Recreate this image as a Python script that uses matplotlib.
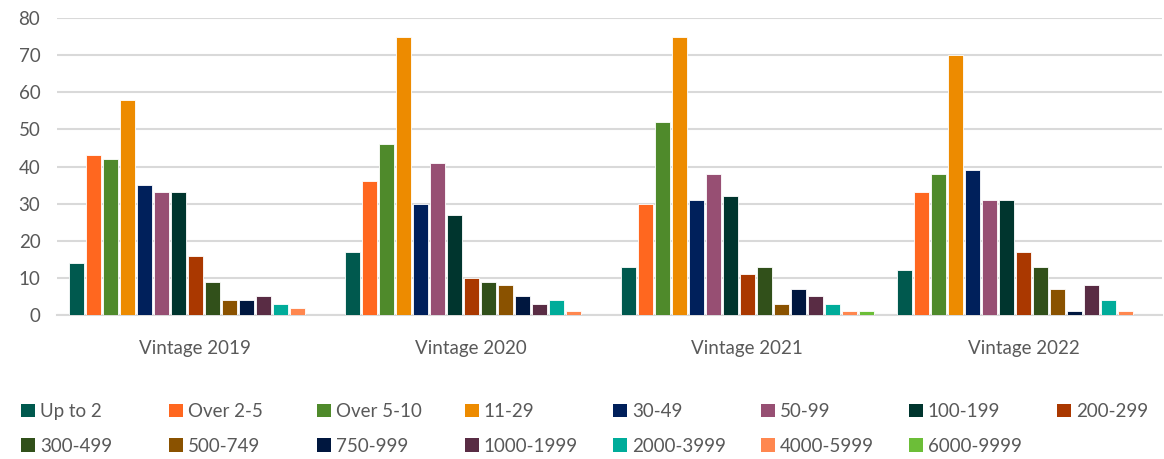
import numpy as np
import matplotlib
matplotlib.use('Agg')
import matplotlib.pyplot as plt
from matplotlib.patches import Patch

plt.rcParams['font.family'] = ['Lato', 'DejaVu Sans']

# Datos
vintages = ['Vintage 2019', 'Vintage 2020', 'Vintage 2021', 'Vintage 2022']
sizes = ['Up to 2', 'Over 2-5', 'Over 5-10', '11-29', '30-49', '50-99', '100-199',
         '200-299', '300-499', '500-749', '750-999', '1000-1999', '2000-3999',
         '4000-5999', '6000-9999']
v2019 = [14, 43, 42, 58, 35, 33, 33, 16, 9, 4, 4, 5, 3, 2, 0]
v2020 = [17, 36, 46, 75, 30, 41, 27, 10, 9, 8, 5, 3, 4, 1, 0]
v2021 = [13, 30, 52, 75, 31, 38, 32, 11, 13, 3, 7, 5, 3, 1, 1]
v2022 = [12, 33, 38, 70, 39, 31, 31, 17, 13, 7, 1, 8, 4, 1, 0]
colores = ['#00594E', '#FF671F', '#4F8A2B', '#ED8B00', '#00205B', '#974F73',
           '#00352E', '#AA3800', '#31501A', '#8A5200', '#00173F', '#592C44',
           '#00AC9A', '#FF874F', '#6CBE38']

valores = np.array([v2019, v2020, v2021, v2022])
gris = '#595959'

fig = plt.figure(figsize=(11.64, 4.59), dpi=100)
ax = fig.add_axes([0.049, 0.3137, 0.949, 0.6471])

n = len(sizes)
paso = 17 / 276.0
x = np.arange(len(vintages))
for i in range(n):
  ax.bar(x + (i - (n - 1) / 2) * paso, valores[:, i], width=paso * 0.88,
         color=colores[i], edgecolor='white', linewidth=0.6, zorder=3)

ax.set_xlim(-0.5, len(vintages) - 0.5)
ax.set_ylim(0, 80)
ax.set_yticks(range(0, 81, 10))
ax.set_xticks(x)
ax.set_xticklabels(vintages)
ax.tick_params(axis='both', length=0, labelsize=13.5, labelcolor=gris)
ax.tick_params(axis='x', pad=18)
ax.tick_params(axis='y', pad=12)
ax.grid(axis='y', color='#D9D9D9', linewidth=1.5, zorder=0)
for s in ['top', 'right', 'left']:
  ax.spines[s].set_visible(False)
ax.spines['bottom'].set_color('#D9D9D9')
ax.spines['bottom'].set_linewidth(1.5)

# Leyenda: una por columna para imitar el reparto de Excel
ncol = 8
for c in range(ncol):
  idx = [j for j in (c, c + ncol) if j < n]
  handles = [Patch(facecolor=colores[j], edgecolor='none') for j in idx]
  labels = [sizes[j] for j in idx]
  fig.legend(handles, labels, loc='upper left',
             bbox_to_anchor=((21 + c * 148) / 1164.0, 1 - 403 / 459.0),
             frameon=False, fontsize=13.5, labelcolor=gris,
             handlelength=0.75, handleheight=0.75, handletextpad=0.25,
             labelspacing=0.95, borderpad=0, borderaxespad=0)

fig.savefig('out.png', dpi=100)
